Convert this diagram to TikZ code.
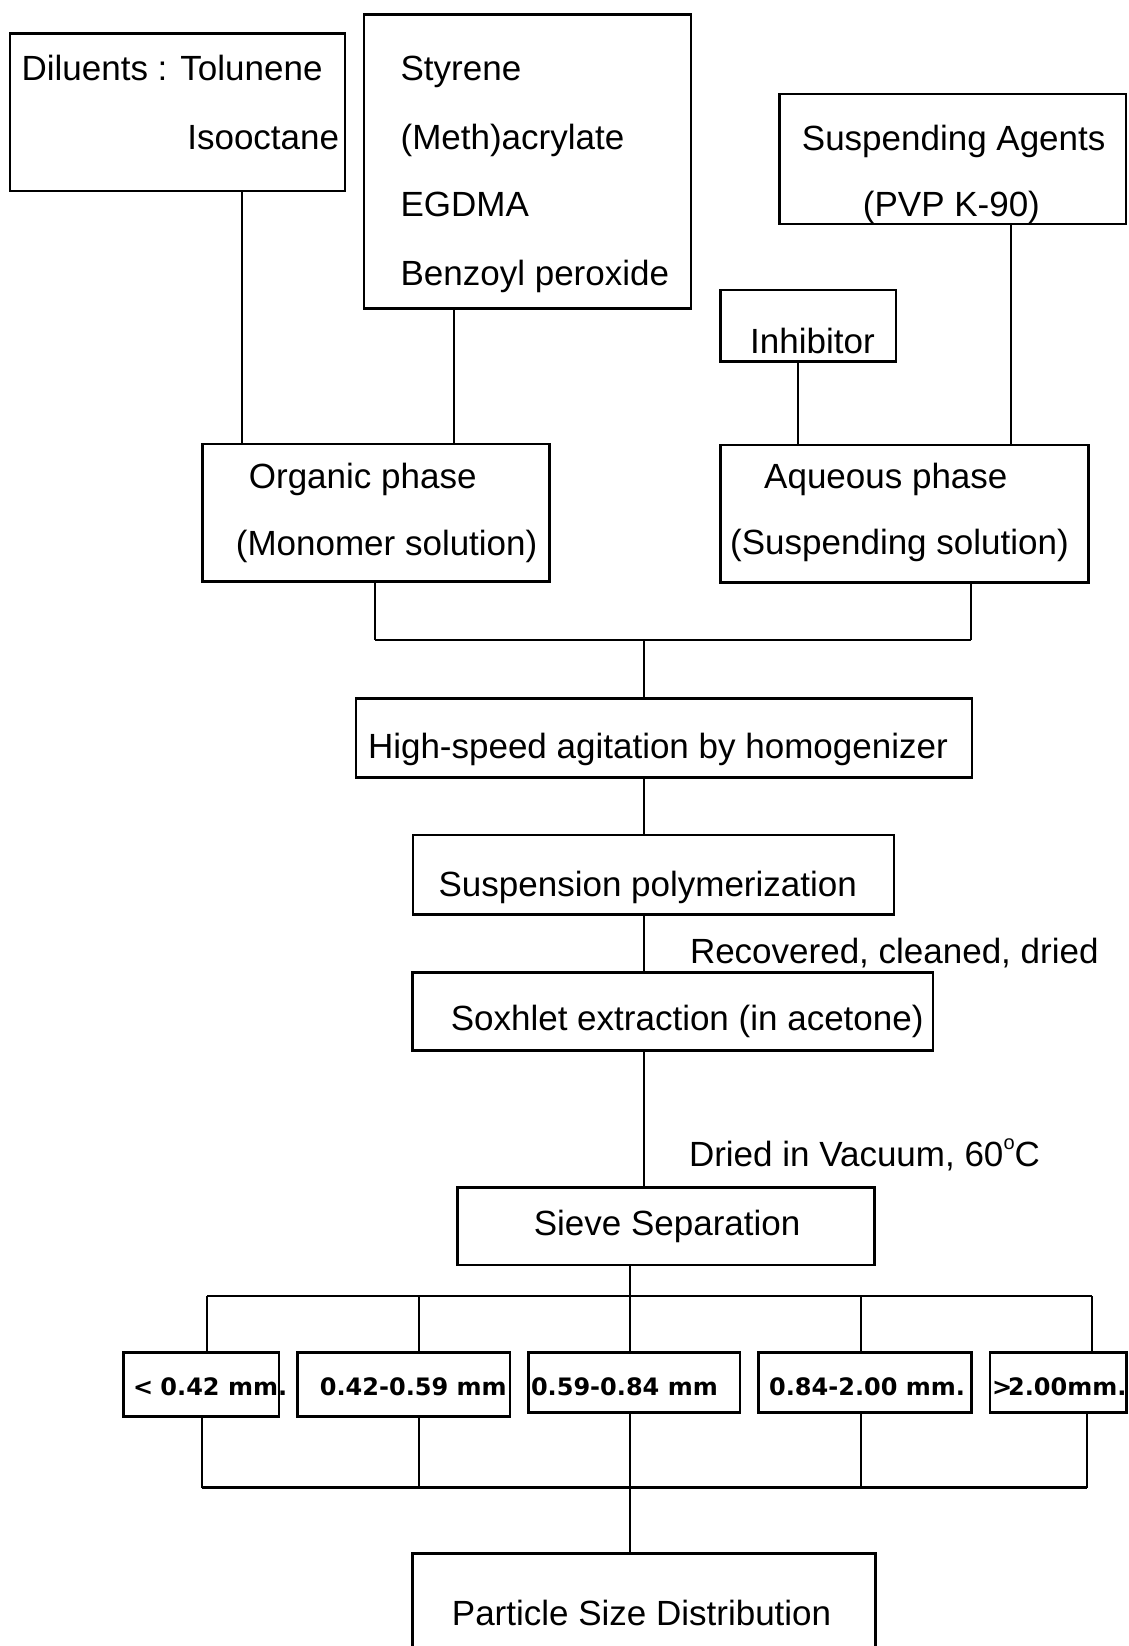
\documentclass[tikz,border=0pt]{standalone}
\usepackage{fontspec}
\setmainfont{Liberation Sans}
\newfontfamily\sizefont{DejaVu Sans}
\newcommand{\bigtxt}{\fontsize{35}{42}\selectfont}
\newcommand{\smalltxt}{\sizefont\bfseries\fontsize{24}{29}\selectfont}
\newcommand{\degsign}{\raisebox{0.5em}{\fontsize{20}{20}\selectfont o}}

\begin{document}
\begin{tikzpicture}[
        x=1pt, y=-1pt,
        box/.style={rectangle, draw, line width=2.6pt, inner sep=0pt, outer sep=0pt},
        txt/.style={inner sep=0pt, anchor=base west, font=\bigtxt},
        sz/.style={inner sep=0pt, anchor=base west, font=\smalltxt},
        line/.style={line width=2pt},
        bus/.style={line width=2.8pt}
    ]
    \useasboundingbox (0,0) rectangle (1128,1646);
    \clip (0,0) rectangle (1128,1646);

    % boxes
    \node (diluents) [box, minimum width=335pt, minimum height=157.5pt] at (177.5,112.3) {};
    \node (monomers) [box, minimum width=327.2pt, minimum height=294pt] at (527.4,161.3) {};
    \node (agents) [box, minimum width=346.7pt, minimum height=130pt] at (952.65,159) {};
    \node (inhibitor) [box, minimum width=175.3pt, minimum height=71.7pt] at (808.35,325.85) {};
    \node (organic) [box, minimum width=347.4pt, minimum height=137.7pt] at (376,512.85) {};
    \node (aqueous) [box, minimum width=367.7pt, minimum height=137.2pt] at (904.55,513.6) {};
    \node (agitation) [box, minimum width=616pt, minimum height=79.4pt] at (664,738) {};
    \node (polymer) [box, minimum width=481pt, minimum height=79.3pt] at (653.5,874.65) {};
    \node (soxhlet) [box, minimum width=520.5pt, minimum height=78.4pt] at (672.75,1011.5) {};
    \node (sieve) [box, minimum width=417.3pt, minimum height=77.7pt] at (665.85,1226.15) {};
    \node (b1) [box, minimum width=155.4pt, minimum height=64pt] at (201.3,1384.7) {};
    \node (b2) [box, minimum width=212.4pt, minimum height=64pt] at (403.6,1384.7) {};
    \node (b3) [box, minimum width=211.8pt, minimum height=60pt] at (634.1,1382.7) {};
    \node (b4) [box, minimum width=213.1pt, minimum height=60pt] at (864.95,1382.7) {};
    \node (b5) [box, minimum width=136.4pt, minimum height=60pt] at (1058,1382.7) {};
    \node (particle) [box, minimum width=463.4pt, minimum height=146.7pt] at (644,1626.65) {};

    % texts
    \node (diluents-1) [txt] at (21.4,81) {Diluents : Tolunene};
    \node (diluents-2) [txt, anchor=base east] at (339.3,149) {Isooctane};
    \node (monomers-1) [txt] at (400.4,81) {Styrene};
    \node (monomers-2) [txt] at (400.4,149) {(Meth)acrylate};
    \node (monomers-3) [txt] at (400.4,216.7) {EGDMA};
    \node (monomers-4) [txt] at (400.4,285) {Benzoyl peroxide};
    \node (agents-1) [txt] at (801.7,150) {Suspending Agents};
    \node (agents-2) [txt] at (862.7,216.7) {(PVP K-90)};
    \node (inhibitor-1) [txt] at (750,353.3) {Inhibitor};
    \node (organic-1) [txt] at (248.7,488.3) {Organic phase};
    \node (organic-2) [txt] at (235.7,555) {(Monomer solution)};
    \node (aqueous-1) [txt] at (764,488.3) {Aqueous phase};
    \node (aqueous-2) [txt] at (730,554) {(Suspending solution)};
    \node (agitation-1) [txt] at (367.8,758.3) {High-speed agitation by homogenizer};
    \node (polymer-1) [txt] at (438.4,896) {Suspension polymerization};
    \node (recovered) [txt] at (689.8,963.5) {Recovered, cleaned, dried};
    \node (soxhlet-1) [txt] at (450.6,1030.7) {Soxhlet extraction (in acetone)};
    \node (dried) [txt] at (688.8,1166.7) {Dried in Vacuum, 60\degsign C};
    \node (sieve-1) [txt] at (533.6,1235) {Sieve Separation};
    \node (b1-t) [sz] at (132.8,1395) {<\kern-1pt{} 0.42 mm.};
    \node (b2-t) [sz] at (319.7,1395) {0.42-0.59 mm};
    \node (b3-t) [sz] at (530.8,1395) {0.59-0.84 mm};
    \node (b4-t) [sz] at (768.9,1395) {0.84-2.00 mm.};
    \node (b5-t) [sz] at (991.8,1395) {>\kern-4pt{}2.00mm.};
    \node (particle-1) [txt] at (451.7,1625) {Particle Size Distribution};

    % connector positions
    \coordinate (dx) at (242.4,0);
    \coordinate (mx) at (454,0);
    \coordinate (ix) at (798.3,0);
    \coordinate (ax) at (1011,0);
    \coordinate (ox) at (375.4,0);
    \coordinate (qx) at (971,0);
    \coordinate (m1) at (644.2,640);
    \coordinate (t1) at (206.9,1296);
    \coordinate (t2) at (419.3,1296);
    \coordinate (t3) at (630.3,1296);
    \coordinate (t4) at (861.3,1296);
    \coordinate (t5) at (1092,1296);
    \coordinate (j1) at (201.6,1487.7);
    \coordinate (j2) at (419.3,1487.7);
    \coordinate (j3) at (630.3,1487.7);
    \coordinate (j4) at (861.3,1487.7);
    \coordinate (j5) at (1086.9,1487.7);

    % top part
    \draw[line] (diluents.south -| dx) -- (organic.north -| dx);
    \draw[line] (monomers.south -| mx) -- (organic.north -| mx);
    \draw[line] (inhibitor.south -| ix) -- (aqueous.north -| ix);
    \draw[line] (agents.south -| ax) -- (aqueous.north -| ax);
    \draw[line] (organic.south -| ox) -- (ox |- m1);
    \draw[line] (aqueous.south -| qx) -- (qx |- m1);
    \draw[bus] (ox |- m1) -- (qx |- m1);

    % main line
    \draw[line] (m1) -- (agitation.north -| m1);
    \draw[line] (agitation.south -| m1) -- (polymer.north -| m1);
    \draw[line] (polymer.south -| m1) -- (soxhlet.north -| m1);
    \draw[line] (soxhlet.south -| m1) -- (sieve.north -| m1);

    % sieve fractions
    \draw[line] (sieve.south -| t3) -- (t3);
    \draw[bus] (t1) -- (t5);
    \draw[line] (t1) -- (b1.north -| t1);
    \draw[line] (t2) -- (b2.north -| t2);
    \draw[line] (t3) -- (b3.north -| t3);
    \draw[line] (t4) -- (b4.north -| t4);
    \draw[line] (t5) -- (b5.north -| t5);
    \draw[line] (b1.south -| j1) -- (j1);
    \draw[line] (b2.south -| j2) -- (j2);
    \draw[line] (b3.south -| j3) -- (j3);
    \draw[line] (b4.south -| j4) -- (j4);
    \draw[line] (b5.south -| j5) -- (j5);
    \draw[bus] (j1) -- (j5);
    \draw[line] (j3) -- (particle.north -| j3);
\end{tikzpicture}
\end{document}
